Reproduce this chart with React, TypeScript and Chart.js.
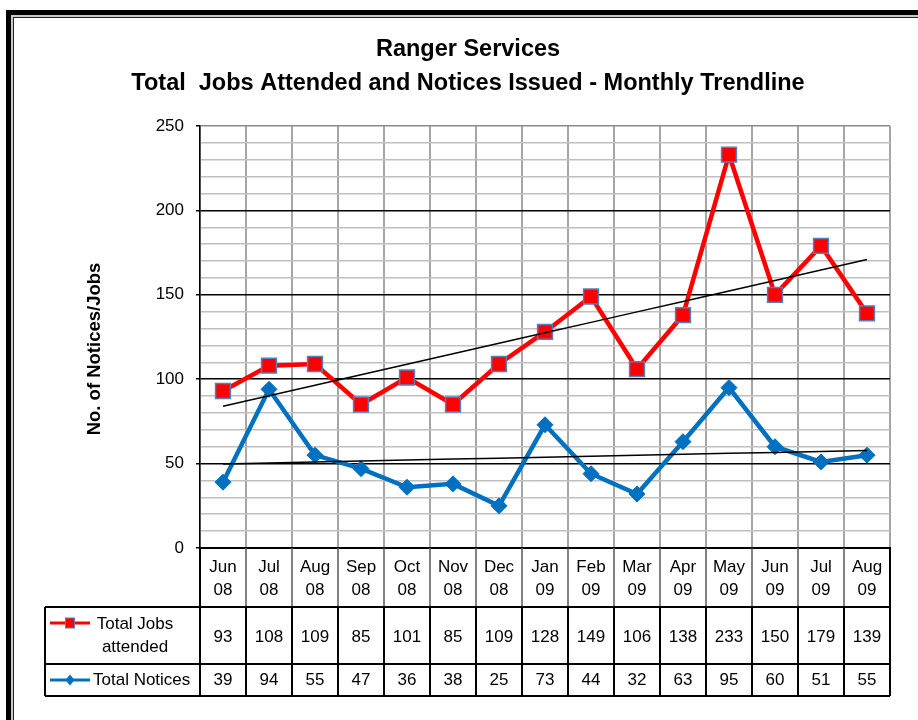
import React, { useEffect, useRef } from 'react';
import { Chart, registerables } from 'chart.js';

Chart.register(...registerables);

const MONTHS = ['Jun', 'Jul', 'Aug', 'Sep', 'Oct', 'Nov', 'Dec', 'Jan', 'Feb', 'Mar', 'Apr', 'May', 'Jun', 'Jul', 'Aug'];
const YEARS = ['08', '08', '08', '08', '08', '08', '08', '09', '09', '09', '09', '09', '09', '09', '09'];
const JOBS = [93, 108, 109, 85, 101, 85, 109, 128, 149, 106, 138, 233, 150, 179, 139];
const NOTICES = [39, 94, 55, 47, 36, 38, 25, 73, 44, 32, 63, 95, 60, 51, 55];
const TITLE_LINES = ['Ranger Services', 'Total  Jobs Attended and Notices Issued - Monthly Trendline'];
const Y_TITLE = 'No. of Notices/Jobs';
const JOBS_LABEL = ['Total Jobs', 'attended'];
const NOTICES_LABEL = 'Total Notices';
const Y_MIN = 0;
const Y_MAX = 250;
const Y_STEP = 10;
const Y_MAJOR = 50;

const FONT = '"Liberation Sans", Arial, sans-serif';
const RED = '#ff0000';
const BLUE = '#0070c0';
const MARKER_EDGE = '#4f81bd';

// Least-squares linear trend (as Excel's linear trendline does) derived from the series values
function linearTrend(values: number[]): number[] {
  const n = values.length;
  const mx = (n - 1) / 2;
  const my = values.reduce((s, v) => s + v, 0) / n;
  let sxy = 0;
  let sxx = 0;
  values.forEach((v, i) => {
    sxy += (i - mx) * (v - my);
    sxx += (i - mx) * (i - mx);
  });
  const b = sxy / sxx;
  const a = my - b * mx;
  return values.map((_, i) => a + b * i);
}

const framePlugin = {
  id: 'frame',
  afterDraw(chart: any) {
    const ctx = chart.ctx;
    const W = chart.width;
    const H = chart.height;
    ctx.save();
    ctx.fillStyle = '#000';
    ctx.fillRect(6, 10, W, 5);
    ctx.fillRect(6, 10, 5, H);
    ctx.fillStyle = '#c8c8c8';
    ctx.fillRect(11, 15, W, 2);
    ctx.fillRect(11, 15, 2, H);
    ctx.fillStyle = '#222';
    ctx.fillRect(13, 17, W, 1);
    ctx.fillRect(13, 17, 1, H);

    // y axis title
    const area = chart.chartArea;
    ctx.translate(95, (area.top + area.bottom) / 2 + 12);
    ctx.rotate(-Math.PI / 2);
    ctx.fillStyle = '#000';
    ctx.font = `bold 18.5px ${FONT}`;
    ctx.textAlign = 'center';
    ctx.textBaseline = 'middle';
    ctx.fillText(Y_TITLE, 0, 0);
    ctx.restore();
  },
};

const tablePlugin = {
  id: 'dataTable',
  afterDraw(chart: any) {
    const ctx = chart.ctx;
    const xs = chart.scales.x;
    const area = chart.chartArea;
    const top = area.bottom;
    const hdrB = top + 59;
    const r1B = hdrB + 57;
    const r2B = r1B + 32;
    const tableLeft = 45;
    const bounds: number[] = [];
    for (let i = 0; i <= MONTHS.length; i++) bounds.push(xs.getPixelForValue(i - 0.5));
    const right = bounds[bounds.length - 1];

    const line = (x1: number, y1: number, x2: number, y2: number) => {
      ctx.beginPath();
      ctx.moveTo(x1, y1);
      ctx.lineTo(x2, y2);
      ctx.stroke();
    };

    ctx.save();
    // header row separators
    ctx.strokeStyle = '#595959';
    ctx.lineWidth = 1.5;
    for (let i = 1; i < bounds.length - 1; i++) line(bounds[i], top, bounds[i], hdrB);
    ctx.strokeStyle = '#000';
    ctx.lineWidth = 2;
    line(bounds[0], top, bounds[0], hdrB);
    line(right, top, right, hdrB);
    // value rows separators
    for (let i = 0; i < bounds.length; i++) line(bounds[i], hdrB, bounds[i], r2B);
    // horizontals
    [hdrB, r1B, r2B].forEach((y) => line(tableLeft, y, right, y));
    line(tableLeft, hdrB, tableLeft, r2B);

    // values
    ctx.fillStyle = '#000';
    ctx.font = `17px ${FONT}`;
    ctx.textAlign = 'center';
    ctx.textBaseline = 'middle';
    const y1 = (hdrB + r1B) / 2 + 2;
    const y2 = (r1B + r2B) / 2;
    JOBS.forEach((v, i) => ctx.fillText(String(v), xs.getPixelForValue(i), y1));
    NOTICES.forEach((v, i) => ctx.fillText(String(v), xs.getPixelForValue(i), y2));

    // legend keys
    const kx1 = tableLeft + 5;
    const kx2 = tableLeft + 45;
    const kc = (kx1 + kx2) / 2;
    const ky1 = hdrB + 16;
    ctx.lineWidth = 3;
    ctx.strokeStyle = RED;
    line(kx1, ky1, kx2, ky1);
    ctx.fillStyle = RED;
    ctx.fillRect(kc - 4.5, ky1 - 5, 9, 10);
    ctx.lineWidth = 1;
    ctx.strokeStyle = MARKER_EDGE;
    ctx.strokeRect(kc - 4.5, ky1 - 5, 9, 10);

    ctx.lineWidth = 3;
    ctx.strokeStyle = BLUE;
    line(kx1, y2, kx2, y2);
    ctx.fillStyle = BLUE;
    ctx.beginPath();
    ctx.moveTo(kc, y2 - 5.5);
    ctx.lineTo(kc + 4.5, y2);
    ctx.lineTo(kc, y2 + 5.5);
    ctx.lineTo(kc - 4.5, y2);
    ctx.closePath();
    ctx.fill();

    ctx.fillStyle = '#000';
    ctx.textAlign = 'center';
    ctx.fillText(JOBS_LABEL[0], 135, ky1 + 1);
    ctx.fillText(JOBS_LABEL[1], 135, ky1 + 24);
    ctx.textAlign = 'left';
    ctx.fillText(NOTICES_LABEL, kx2 + 3, y2);
    ctx.restore();
  },
};

export default function App() {
  const canvasRef = useRef<HTMLCanvasElement | null>(null);

  useEffect(() => {
    const canvas = canvasRef.current;
    if (!canvas) return;
    Chart.defaults.color = '#000';
    const labels = MONTHS.map((m, i) => [m, YEARS[i]]);
    const chart = new Chart(canvas, {
      type: 'line',
      data: {
        labels,
        datasets: [
          {
            label: 'Jobs trend',
            data: linearTrend(JOBS),
            borderColor: '#000',
            borderWidth: 1.5,
            pointRadius: 0,
            order: 0,
          },
          {
            label: 'Notices trend',
            data: linearTrend(NOTICES),
            borderColor: '#000',
            borderWidth: 1.5,
            pointRadius: 0,
            order: 0,
          },
          {
            label: 'Total Jobs attended',
            data: JOBS,
            borderColor: RED,
            backgroundColor: RED,
            borderWidth: 4.5,
            pointStyle: 'rect',
            pointRadius: 10.5,
            pointBackgroundColor: RED,
            pointBorderColor: MARKER_EDGE,
            pointBorderWidth: 1.5,
            order: 1,
          },
          {
            label: 'Total Notices',
            data: NOTICES,
            borderColor: BLUE,
            backgroundColor: BLUE,
            borderWidth: 4.5,
            pointStyle: 'rectRot',
            pointRadius: 8,
            pointBackgroundColor: BLUE,
            pointBorderColor: BLUE,
            pointBorderWidth: 1,
            order: 2,
          },
        ],
      },
      options: {
        responsive: false,
        animation: false,
        events: [],
        layout: { padding: { top: 0, left: 46, right: 28, bottom: 24 } },
        plugins: {
          legend: { display: false },
          tooltip: { enabled: false },
          title: {
            display: true,
            text: TITLE_LINES,
            color: '#000',
            font: { family: FONT, size: 23.5, weight: 'bold', lineHeight: '34px' },
            padding: { top: 33, bottom: 25 },
          },
        },
        scales: {
          x: {
            type: 'category',
            offset: true,
            grid: {
              offset: true,
              drawTicks: false,
              color: '#a6a6a6',
              lineWidth: 2,
            },
            border: { display: true, color: '#000', width: 2 },
            ticks: {
              autoSkip: false,
              maxRotation: 0,
              padding: 8,
              color: '#000',
              font: { family: FONT, size: 17, lineHeight: '23px' },
            },
            afterFit(scale: any) {
              scale.height = 148;
            },
          },
          y: {
            min: Y_MIN,
            max: Y_MAX,
            border: { display: true, color: '#000', width: 1.5 },
            grid: {
              tickLength: 4,
              lineWidth: 1.5,
              color: (c: any) => {
                const v = c.tick ? c.tick.value : 0;
                if (v === Y_MAX) return '#8c8c8c';
                return v % Y_MAJOR === 0 ? '#000' : '#c0c0c0';
              },
              tickColor: (c: any) => {
                const v = c.tick ? c.tick.value : 0;
                return v % Y_MAJOR === 0 ? '#000' : 'rgba(0,0,0,0)';
              },
            },
            ticks: {
              stepSize: Y_STEP,
              autoSkip: false,
              padding: 12,
              color: '#000',
              font: { family: FONT, size: 17 },
              callback: (v: any) => (Number(v) % Y_MAJOR === 0 ? String(v) : ''),
            },
            title: { display: false },
            afterFit(scale: any) {
              scale.width = 154;
            },
          },
        },
      },
      plugins: [tablePlugin, framePlugin],
    } as any);
    return () => chart.destroy();
  }, []);

  return (
    <div style={{ position: 'fixed', left: 0, top: 0, width: 918, height: 720, background: '#fff' }}>
      <canvas ref={canvasRef} width={918} height={720} style={{ display: 'block' }} />
    </div>
  );
}
